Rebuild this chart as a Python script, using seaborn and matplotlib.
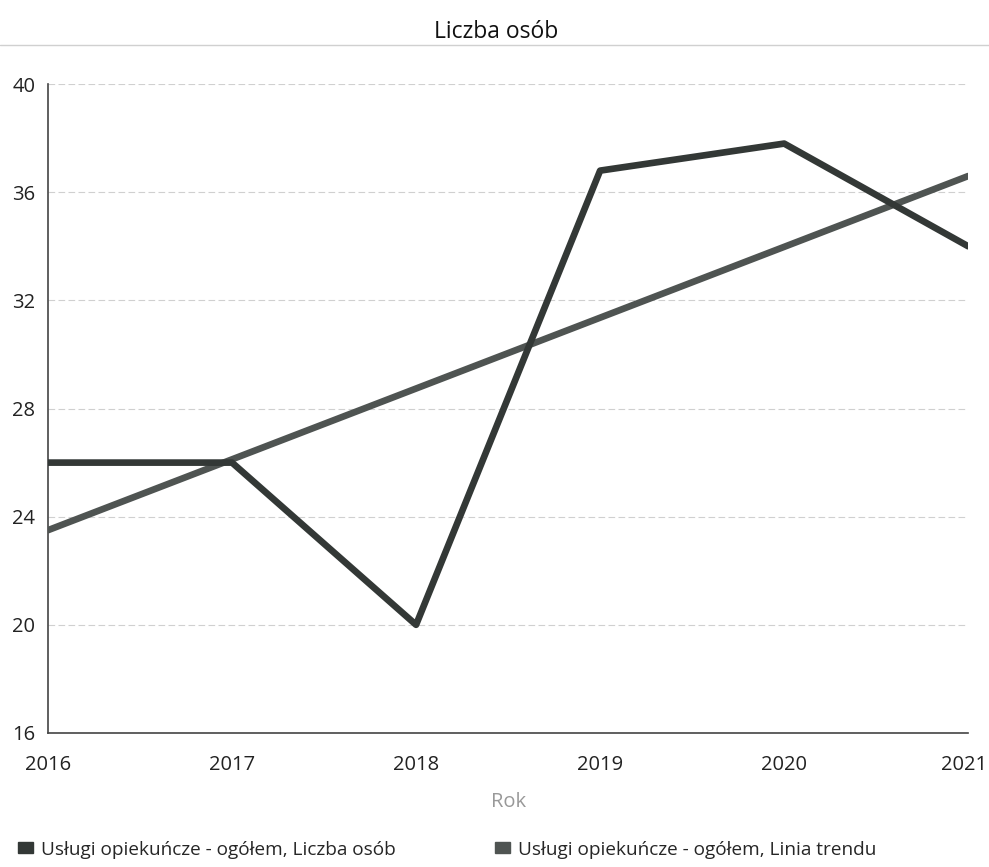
import matplotlib
matplotlib.use("Agg")
import matplotlib.pyplot as plt
import matplotlib.transforms as mtransforms
import seaborn as sns
import pandas as pd
from matplotlib.lines import Line2D
from matplotlib.patches import Patch

years = [2016, 2017, 2018, 2019, 2020, 2021]
values = [26, 26, 20, 36.8, 37.8, 34]
trend_years = [2016, 2021]
trend_values = [23.5, 36.6]
y_ticks = [16, 20, 24, 28, 32, 36, 40]
title = "Liczba osób"
x_label = "Rok"
legend_labels = ["Usługi opiekuńcze - ogółem, Liczba osób",
                 "Usługi opiekuńcze - ogółem, Linia trendu"]

sns.set_theme(style="white")
plt.rcParams['font.family'] = ['Open Sans', 'DejaVu Sans']

c_data = "#333836"
c_trend = "#4f5452"

df = pd.DataFrame({"Rok": years, "v": values})
dft = pd.DataFrame({"Rok": trend_years, "v": trend_values})

fig = plt.figure(figsize=(9.89, 8.67), dpi=100)
ax = fig.add_axes([0.0485, 0.1546, 0.9305, 0.7484])

sns.lineplot(data=dft, x="Rok", y="v", ax=ax, color=c_trend, linewidth=4.8, zorder=3)
sns.lineplot(data=df, x="Rok", y="v", ax=ax, color=c_data, linewidth=4.8, zorder=4)

ax.set_xlim(2016, 2021)
ax.set_ylim(16, 40)
ax.set_yticks(y_ticks)
ax.set_xticks(years)
ax.set_xticklabels([str(y) for y in years], fontsize=14.5, color="#222222")
ax.set_yticklabels([str(t) for t in y_ticks], fontsize=14.5, color="#222222")
ax.tick_params(axis="both", length=0)
ax.tick_params(axis="x", pad=16)
ax.tick_params(axis="y", pad=9)
last = ax.get_xticklabels()[-1]
last.set_horizontalalignment("right")
last.set_transform(last.get_transform() +
                   mtransforms.ScaledTranslation(19 / 100, 0, fig.dpi_scale_trans))
ax.grid(axis="y", color="#d0d0d0", linestyle=(0, (6, 3)), linewidth=0.8)
ax.grid(axis="x", visible=False)
for s in ["top", "right"]:
    ax.spines[s].set_visible(False)
for s in ["left", "bottom"]:
    ax.spines[s].set_color("#444444")
    ax.spines[s].set_linewidth(1.2)

ax.set_xlabel(x_label, fontsize=14.5, color="#999999", labelpad=12)
ax.set_ylabel("")
fig.text(0.502, 0.963, title, ha="center", va="center", fontsize=16.5, color="#111111")
fig.add_artist(Line2D([0.0, 1.0], [0.948, 0.948], transform=fig.transFigure,
                      color="#d0d0d0", linewidth=1.0))

handles = [Patch(facecolor=c_data, edgecolor=c_data),
           Patch(facecolor=c_trend, edgecolor=c_trend)]
fig.legend(handles, legend_labels, loc="center", bbox_to_anchor=(0.452, 0.02),
           ncol=2, frameon=False, fontsize=13.7, handlelength=0.8, handleheight=0.5,
           handletextpad=0.4, columnspacing=5.2)

fig.savefig("out.png", dpi=100)
